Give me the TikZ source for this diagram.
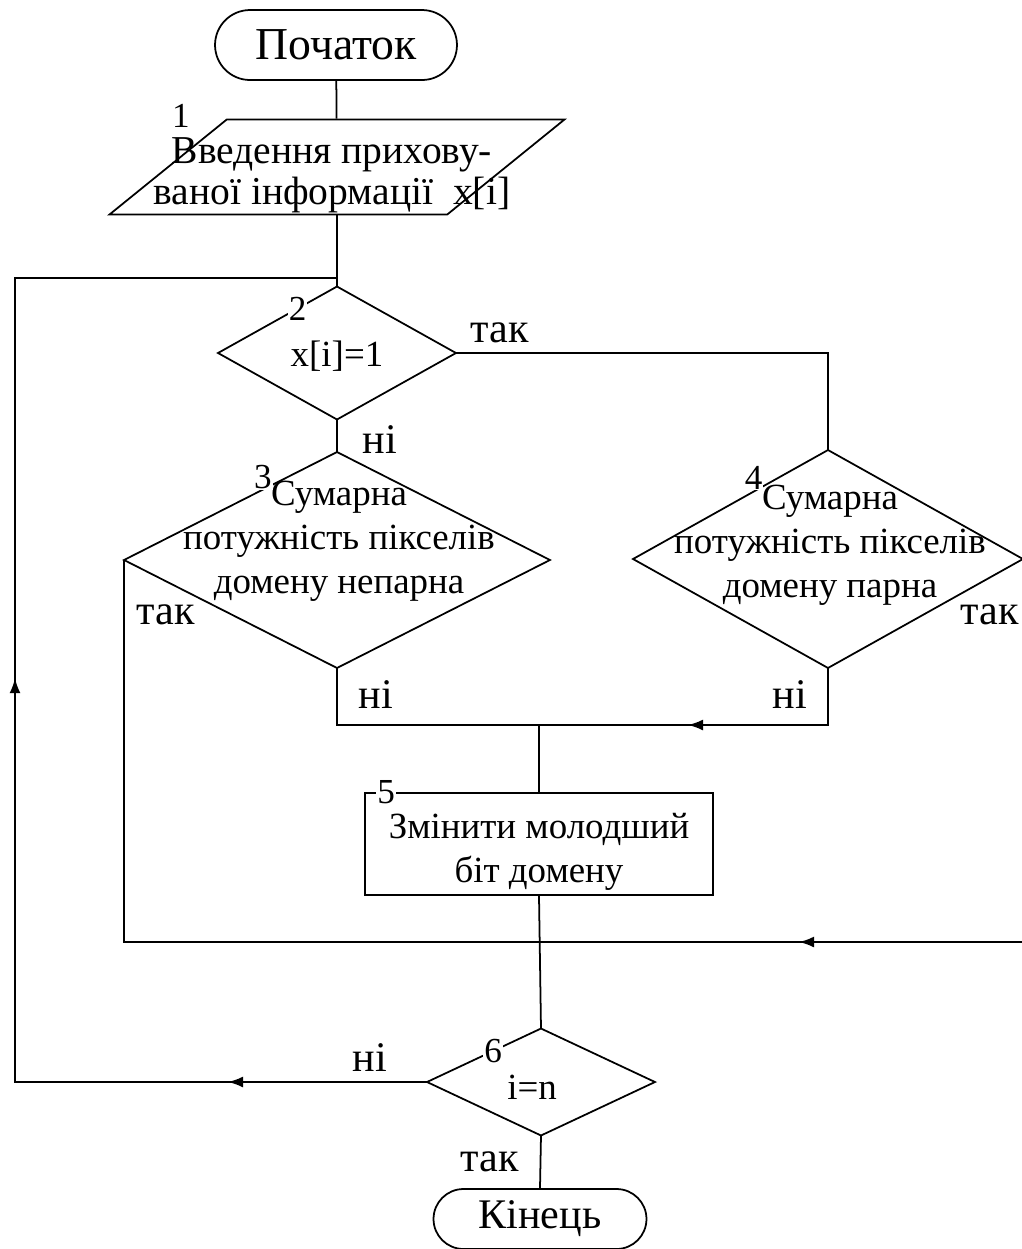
\documentclass[tikz,border=0pt]{standalone}
\usepackage{fontspec}
\setmainfont{Liberation Serif}
\usetikzlibrary{positioning,arrows.meta,calc,shapes.geometric,shapes.misc,decorations.markings}

\begin{document}
\begin{tikzpicture}[
    x=0.02cm, y=-0.02cm,
    font=\fontsize{21}{25}\selectfont,
    line width=1pt,
    term/.style={draw, rounded rectangle, inner sep=0pt},
    io/.style={draw, trapezium, trapezium left angle=62, trapezium right angle=118, trapezium stretches=true, minimum width=9.1cm, minimum height=1.9cm, inner sep=1pt},
    proc/.style={draw, rectangle, minimum width=6.96cm, minimum height=2.04cm, inner sep=0pt},
    decision/.style={draw, diamond, inner sep=0pt, outer sep=0pt},
    txt/.style={align=center, inner sep=0pt},
    num/.style={fill=white, inner sep=0.5pt, font=\fontsize{20}{20}\selectfont},
    lbl/.style={inner sep=0pt, font=\fontsize{24}{24}\selectfont},
    arrowat/.style={postaction={decorate, decoration={markings, mark=at position #1 with {\arrow{Latex[length=3mm, width=2.2mm]}}}}}
]
    \useasboundingbox (0,0) rectangle (1022,1249);

    % Terminals
    \node[term, minimum width=4.84cm, minimum height=1.4cm, font=\fontsize{26}{26}\selectfont] (start) at (336,45) {Початок};
    \node[term, minimum width=4.26cm, minimum height=1.2cm, font=\fontsize{24}{24}\selectfont] (stop) at (540,1219) {Кінець};

    % Input
    \node[io] (inp) at (337,167) {};
    \node[txt, font=\fontsize{22.5}{23.5}\selectfont] (tinp) at (332,175) {Введення прихову-\\ваної інформації\ \ x[і]};
    \node[num] (n1) at ($(inp.north)+(-156,-3)$) {1};

    % Decisions
    \node[decision, minimum width=4.76cm, minimum height=2.66cm] (d2) at (337,353) {};
    \node[txt] (t2) at (337,356) {x[і]=1};
    \node[decision, minimum width=8.52cm, minimum height=4.32cm] (d3) at (337,560) {};
    \node[txt] (t3) at (339,541) {Сумарна\\потужність пікселів\\домену непарна};
    \node[decision, minimum width=7.8cm, minimum height=4.36cm] (d4) at (828,559) {};
    \node[txt] (t4) at (830,545) {Сумарна\\потужність пікселів\\домену парна};
    \node[decision, minimum width=4.56cm, minimum height=2.14cm] (d6) at (541,1082) {};
    \node[txt] (t6) at (532,1087) {і=n};

    \node[num] (n2) at ($(d2.north)!0.33!(d2.west)$) {2};
    \node[num] (n3) at ($(d3.north)!0.31!(d3.west)+(-8,-8)$) {3};
    \node[num] (n4) at ($(d4.north)!0.33!(d4.west)+(-10,-8)$) {4};
    \node[num] (n6) at ($(d6.north)!0.42!(d6.west)$) {6};

    % Process
    \node[proc] (act) at (539,844) {};
    \node[txt] (tact) at (539,852) {Змінити молодший\\біт домену};
    \node[num] (n5) at ($(act.north west)+(22,0)$) {5};

    % Junctions
    \coordinate (lft) at (15,278);
    \coordinate (loopin) at (337,278);
    \coordinate (mrg) at (539,725);
    \coordinate (mrg2) at (539,942);

    % Connections
    \draw (start) -- (inp);
    \draw (inp) -- (d2);
    \draw (d2.east) -| (d4.north);
    \draw (d2.south) -- (d3.north);
    \draw (d3.south) |- (mrg);
    \draw[arrowat=3.94cm] (d4.south) |- (mrg);
    \draw (mrg) -- (act.north);
    \draw (d3.west) |- (mrg2);
    \draw[arrowat=12.14cm] (d4.east) |- (mrg2);
    \draw (act.south) -- (d6.north);
    \draw[arrowat=3.98cm, arrowat=16.32cm] (d6.west) -| (lft) -- (loopin);
    \draw (d6.south) -- (stop.north);

    % Branch labels
    \node[lbl] (y2) at (500,333) {так};
    \node[lbl] (no2) at (380,440) {ні};
    \node[lbl] (y3) at (166,615) {так};
    \node[lbl] (no3) at (376,695) {ні};
    \node[lbl] (y4) at (990,615) {так};
    \node[lbl] (no4) at (790,695) {ні};
    \node[lbl] (no6) at (370,1058) {ні};
    \node[lbl] (y6) at (490,1162) {так};
\end{tikzpicture}
\end{document}
